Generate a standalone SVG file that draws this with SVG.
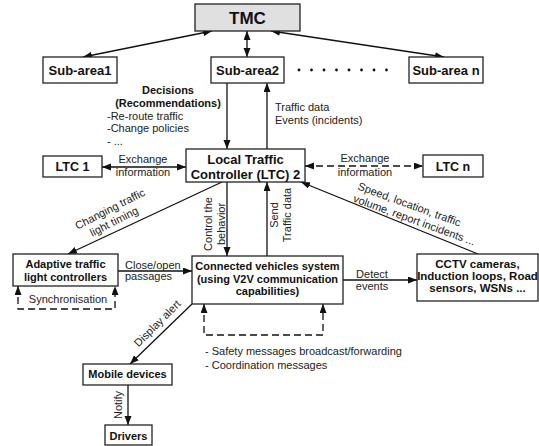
<svg xmlns="http://www.w3.org/2000/svg" width="539" height="446" viewBox="0 0 539 446">
<style>
.box{fill:#fff;stroke:#222;stroke-width:1.3}
.b{font-family:"Liberation Sans",Arial,sans-serif;font-weight:bold;fill:#111;text-anchor:middle}
.t{font-family:"Liberation Sans",Arial,sans-serif;font-size:11px;fill:#222}
.m{text-anchor:middle}
.ln{stroke:#111;stroke-width:1.3;fill:none}
.d{stroke-dasharray:7,4}
</style>
<defs>
<marker id="ah" markerUnits="userSpaceOnUse" markerWidth="10" markerHeight="8" refX="9" refY="3.5" orient="auto-start-reverse">
<path d="M0,0 L9,3.5 L0,7 z" fill="#111"/>
</marker>
</defs>
<rect width="539" height="446" fill="#fff"/>
<g id="connectors">
<line class="ln" x1="212" y1="31" x2="83" y2="57" marker-start="url(#ah)" marker-end="url(#ah)"/>
<line class="ln" x1="247" y1="31" x2="247" y2="57" marker-start="url(#ah)" marker-end="url(#ah)"/>
<line class="ln" x1="271" y1="31" x2="444" y2="57" marker-start="url(#ah)" marker-end="url(#ah)"/>
<line class="ln" x1="227" y1="83" x2="227" y2="149" marker-end="url(#ah)"/>
<line class="ln" x1="267" y1="149" x2="267" y2="83" marker-end="url(#ah)"/>
<line class="ln" x1="102" y1="167" x2="186" y2="167" marker-start="url(#ah)" marker-end="url(#ah)"/>
<line class="ln d" x1="305" y1="166" x2="423" y2="166" marker-start="url(#ah)" marker-end="url(#ah)"/>
<line class="ln" x1="222" y1="182" x2="68" y2="254" marker-end="url(#ah)"/>
<line class="ln" x1="227" y1="182" x2="227" y2="256" marker-end="url(#ah)"/>
<line class="ln" x1="267" y1="256" x2="267" y2="182" marker-end="url(#ah)"/>
<line class="ln" x1="478" y1="254" x2="301" y2="182" marker-end="url(#ah)"/>
<line class="ln" x1="118" y1="271" x2="192" y2="271" marker-end="url(#ah)"/>
<line class="ln" x1="343" y1="280" x2="417" y2="280" marker-end="url(#ah)"/>
<path class="ln d" d="M18,286 L18,309 L115,309 L115,286" marker-start="url(#ah)" marker-end="url(#ah)"/>
<path class="ln d" d="M204,304 L204,335 L323,335 L323,304" marker-start="url(#ah)" marker-end="url(#ah)"/>
<line class="ln" x1="192" y1="304" x2="130" y2="364" marker-end="url(#ah)"/>
<line class="ln" x1="128" y1="385" x2="128" y2="425" marker-end="url(#ah)"/>
</g>
<g id="dots" fill="#111">
<circle cx="299" cy="70" r="1.4"/><circle cx="311.5" cy="70" r="1.4"/><circle cx="324" cy="70" r="1.4"/><circle cx="336.5" cy="70" r="1.4"/><circle cx="349" cy="70" r="1.4"/><circle cx="361.5" cy="70" r="1.4"/><circle cx="374" cy="70" r="1.4"/><circle cx="386.5" cy="70" r="1.4"/>
</g>
<g id="tmc"><rect class="box" x="195" y="4" width="105" height="27" fill="#e0e0e0" style="fill:#e0e0e0"/><text class="b" x="247.5" y="24" font-size="17">TMC</text></g>
<g id="subarea1"><rect class="box" x="43" y="57" width="74" height="26"/><text class="b" x="80" y="75" font-size="13">Sub-area1</text></g>
<g id="subarea2"><rect class="box" x="211" y="57" width="73" height="26"/><text class="b" x="247.5" y="75" font-size="13">Sub-area2</text></g>
<g id="subarean"><rect class="box" x="409" y="57" width="74" height="26"/><text class="b" x="446" y="75" font-size="13">Sub-area n</text></g>
<g id="ltc2"><rect class="box" x="186" y="149" width="119" height="33"/><text class="b" x="245.5" y="164" font-size="13">Local Traffic</text><text class="b" x="245.5" y="178.5" font-size="13">Controller (LTC) 2</text></g>
<g id="ltc1"><rect class="box" x="43" y="156" width="59" height="21"/><text class="b" x="72.5" y="171" font-size="12.5">LTC 1</text></g>
<g id="ltcn"><rect class="box" x="423" y="155" width="60" height="22"/><text class="b" x="453" y="171" font-size="12.5">LTC n</text></g>
<g id="adaptive"><rect class="box" x="13" y="254" width="105" height="32"/><text class="b" x="65.5" y="268" font-size="11">Adaptive traffic</text><text class="b" x="65.5" y="281" font-size="11">light controllers</text></g>
<g id="connected"><rect class="box" x="192" y="256" width="151" height="48"/><text class="b" x="267.5" y="270" font-size="11">Connected vehicles system</text><text class="b" x="267.5" y="282.5" font-size="11">(using V2V communication</text><text class="b" x="267.5" y="295" font-size="11">capabilities)</text></g>
<g id="cctv"><rect class="box" x="417" y="254" width="121" height="47"/><text class="b" x="477.5" y="268" font-size="11.5">CCTV cameras,</text><text class="b" x="477.5" y="280" font-size="11.5">Induction loops, Road</text><text class="b" x="477.5" y="292" font-size="11.5">sensors, WSNs ...</text></g>
<g id="mobile"><rect class="box" x="83" y="364" width="89" height="21"/><text class="b" x="127.5" y="378" font-size="11">Mobile devices</text></g>
<g id="drivers"><rect class="box" x="105" y="425" width="47" height="20"/><text class="b" x="128.5" y="440" font-size="11">Drivers</text></g>
<g id="labels">
<text class="b" x="168" y="94" font-size="11">Decisions</text>
<text class="b" x="168" y="106.5" font-size="11">(Recommendations)</text>
<text class="t" x="107" y="119.5">-Re-route traffic</text>
<text class="t" x="107" y="132">-Change policies</text>
<text class="t" x="107" y="144.5">- ...</text>
<text class="t" x="275" y="111">Traffic data</text>
<text class="t" x="275" y="124">Events (incidents)</text>
<text class="t m" x="143" y="162.5">Exchange</text>
<text class="t m" x="143" y="176">information</text>
<text class="t m" x="365" y="162">Exchange</text>
<text class="t m" x="365" y="176">information</text>
<g transform="translate(113,215) rotate(-27)"><text class="t m" x="0" y="-3">Changing traffic</text><text class="t m" x="-2" y="10">light timing</text></g>
<g transform="translate(212,224) rotate(-90)"><text class="t m" x="0" y="0">Control the</text><text class="t m" x="0" y="12.5">behavior</text></g>
<g transform="translate(278,215) rotate(-90)"><text class="t m" x="0" y="0">Send</text><text class="t m" x="0" y="13">Traffic data</text></g>
<g transform="translate(412,212) rotate(20)"><text class="t m" x="-5" y="-2.5">Speed, location, traffic</text><text class="t m" x="5" y="10.5">volume, report incidents ...</text></g>
<text class="t" x="125" y="268.5">Close/open</text>
<text class="t" x="125" y="280">passages</text>
<text class="t m" x="372" y="277.5">Detect</text>
<text class="t m" x="372" y="290">events</text>
<text class="t m" x="68" y="302.5">Synchronisation</text>
<text class="t" x="205" y="355">- Safety messages broadcast/forwarding</text>
<text class="t" x="205" y="368.5">- Coordination messages</text>
<g transform="translate(160,326) rotate(-45)"><text class="t m" x="0" y="0">Display alert</text></g>
<g transform="translate(122,405) rotate(-90)"><text class="t m" x="0" y="0">Notify</text></g>
</g>
</svg>
